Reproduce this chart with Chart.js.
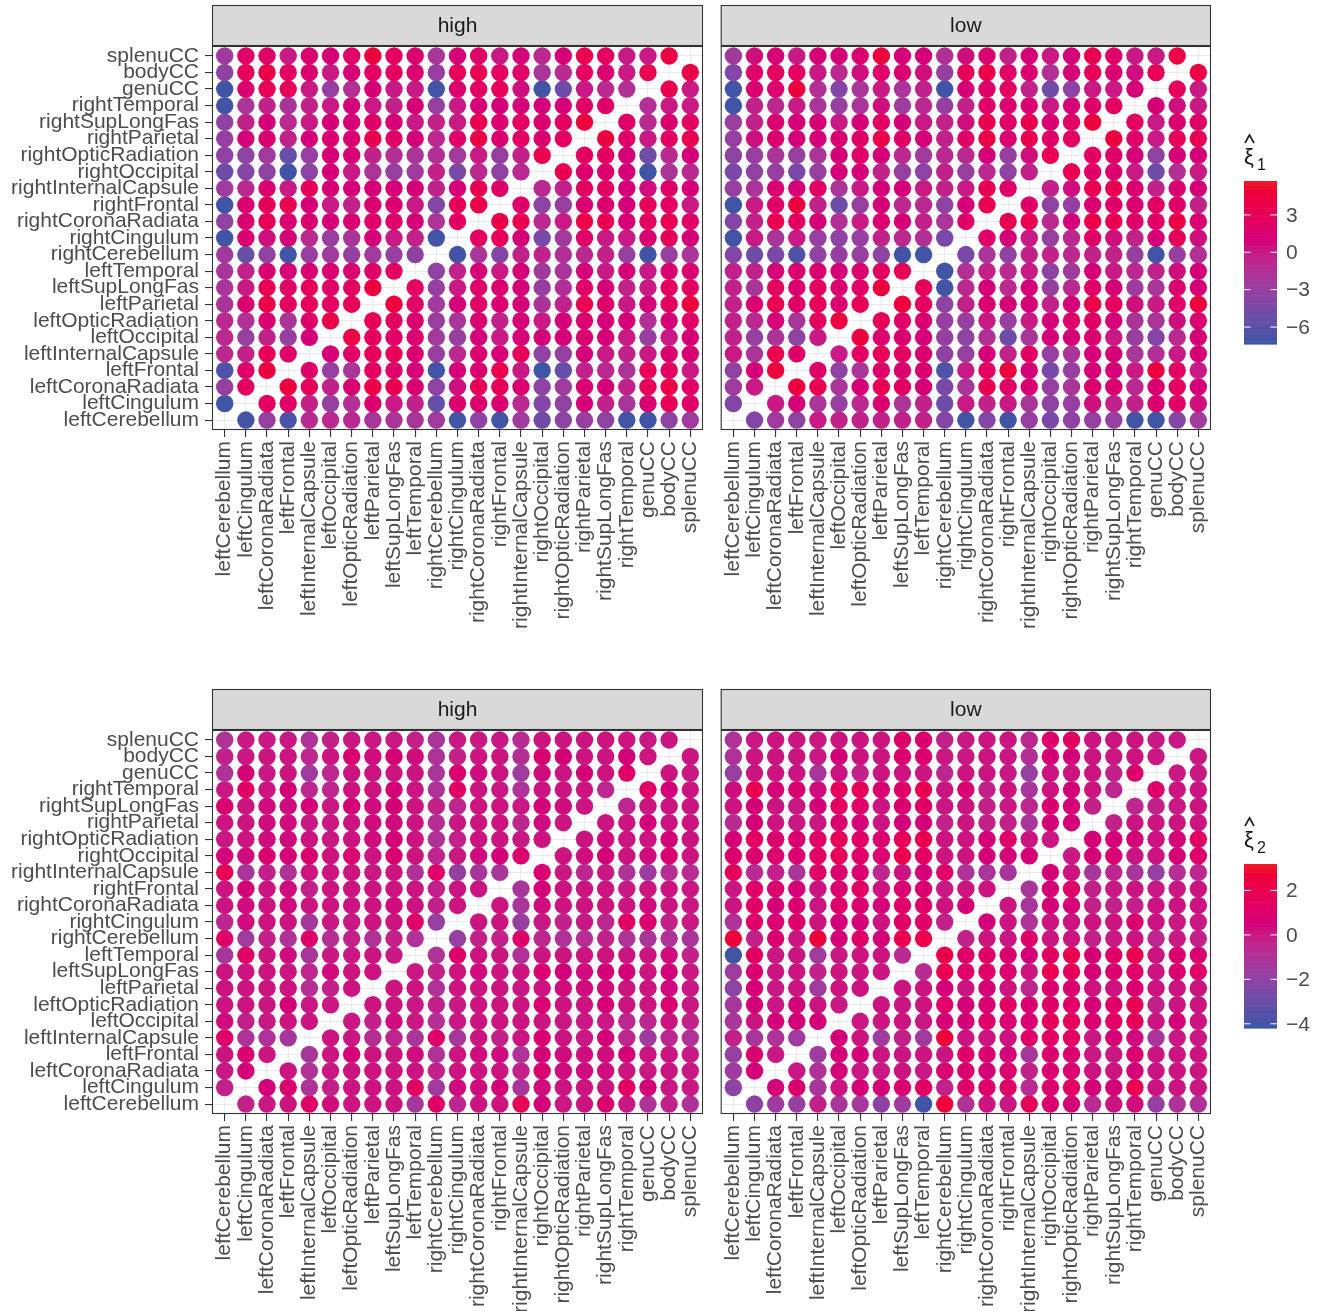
<!DOCTYPE html>
<html lang="en">
<head>
<meta charset="UTF-8">
<title>xi estimates between regions</title>
<script src="https://cdn.jsdelivr.net/npm/chart.js"></script>
<style>
    body {
        margin: 0;
        background: #ffffff;
        width: 1326px;
        height: 1311px;
        overflow: hidden;
    }
    canvas {
        position: absolute;
    }
</style>
</head>
<body>

<canvas id="highTop"></canvas>
<canvas id="lowTop"></canvas>
<canvas id="highBottom"></canvas>
<canvas id="lowBottom"></canvas>

<script>
    // Regions, in axis order (x left to right, y bottom to top)
    const regions = [
        'leftCerebellum', 'leftCingulum', 'leftCoronaRadiata', 'leftFrontal', 'leftInternalCapsule',
        'leftOccipital', 'leftOpticRadiation', 'leftParietal', 'leftSupLongFas', 'leftTemporal',
        'rightCerebellum', 'rightCingulum', 'rightCoronaRadiata', 'rightFrontal', 'rightInternalCapsule',
        'rightOccipital', 'rightOpticRadiation', 'rightParietal', 'rightSupLongFas', 'rightTemporal',
        'genuCC', 'bodyCC', 'splenuCC'
    ];

    const facets = ['high', 'low'];

    // Each matrix is symmetric with an empty diagonal.
    // Row k holds region k+1 against regions 0..k.
    const highXi1 = [
        [-7],
        [-3, 2.5],
        [-6.5, 2, 4.5],
        [-1, -0.5, 3, 2],
        [-1, -3, -0.5, -3, 1],
        [-1, -1.5, 1.5, -2, 2, 4],
        [-2, 1.5, 4, 2.5, 3, 2.5, 3],
        [-2, 0, 3.5, 2, 3, 2, 2.5, 4.5],
        [-2, -0.5, 1.5, 1, 1.5, 1.5, 1.5, 2, 2.5],
        [-2.5, -5.5, -3.5, -7, -3, -2.5, -3, -2.5, -3, -3.5],
        [-7, 1.5, 0.5, 1, -1, -3, -2, 1, 0, -0.5, -7],
        [-3.5, 1.5, 3, 1.5, 1.5, 1, 1.5, 2, 2, 1, -2, 2.5],
        [-7, 1.5, 3, 3.5, 1, 0, -0.5, 1.5, 1.5, 0, -4, 3, 4],
        [-2.5, -1, 1.5, 0, 3, 1, 1, 1, 1, 1, -0.5, 1, 3.5, 2],
        [-5, -4, -3.5, -7, -3.5, 1, 0, -2, -3, -2.5, -0.5, -4.5, -1, -3.5, -1],
        [-3.5, -3.5, -2.5, -5.5, -3, 1, 1, -0.5, -1.5, -2, -1.5, -2.5, 0, -3, -0.5, 3.5],
        [-3, 1, 1.5, -0.5, 1, 1.5, 1.5, 3.5, 2, 1, -1, 2, 4, 1.5, 2.5, 1.5, 2.5],
        [-3.5, -0.5, 1, -1, 0, 1, 1, 2, 1, 0, -0.5, 0, 3.5, 1.5, 2.5, 1.5, 2.5, 4.5],
        [-7, -2, -0.5, -2, -0.5, 0, 1, 0, -0.5, 1, -3, 0, 1, 1, 1, 1, 1, 2, 2],
        [-7, 1.5, 3, 3, 0, -3, -1.5, 1, 0, 0, -7, 1.5, 2.5, 3, 0.5, -7, -5, 0, -1, -1.5],
        [-3.5, 3, 4, 2.5, 1.5, 0, 1, 2.5, 2.5, 1.5, -3, 3, 3.5, 2.5, 2, -2, -1, 2.5, 1.5, 0, 3.5],
        [-2.5, 2, 2, 0, 1.5, 1, 2, 4.5, 2.5, 1.5, -2, 1, 2, 0, 1, -1, 1, 3.5, 2.5, 0, 0, 4]
    ];

    const lowXi1 = [
        [-4],
        [-2.5, 0],
        [-3.5, 1, 4.5],
        [0, -2, 3.5, 2],
        [-0.5, -3, -2, -3.5, 0],
        [-0.5, -1, 1, -2, 2.5, 4.5],
        [-0.5, 1.5, 3.5, 2, 3, 1.5, 3],
        [-0.5, -2, 2.5, 1.5, 2.5, 1.5, 2, 4.5],
        [-0.5, -0.5, 1, 1.5, 1.5, 1, 1.5, 2.5, 3],
        [-4, -5, -4.5, -6.5, -3.5, -3, -3, -3.5, -7, -7],
        [-7, 0, -2, 0, -3, -3.5, -3, -0.5, -1, -1.5, -4.5],
        [-4, -0.5, 3.5, 2.5, 1, -1.5, 0, 1.5, 1, -0.5, -2, 2],
        [-7, 0, 2, 4.5, -0.5, -5, -3, 1, -1, -1, -3.5, 1, 3.5],
        [-3, -2, 1.5, 1, 2.5, -2, 0, 1, 1, 0, -0.5, 0, 3.5, 2],
        [-4.5, -3.5, -3, -4.5, -3, 1, 1, -0.5, -3, -3.5, -0.5, -3, -1, -3.5, -0.5],
        [-3.5, -3, -2, -3, -2, 1, 2, 1, -1, -2.5, -1, -1, 1, -3, 0.5, 3.5],
        [-3, 0.5, 1.5, 1, 1, 1.5, 2, 4, 2, 1, -0.5, 2, 4, 1.5, 3.5, 2, 2.5],
        [-3, -0.5, 1.5, 1, 1, 0, 1, 2.5, 1, 0, -0.5, 0.5, 3.5, 2, 3.5, 1.5, 2, 4.5],
        [-7, -0.5, -1, 0, -2, -3, -2, 0.5, -2.5, -1, -3, -0.5, 2, 1.5, 1.5, 0, 1, 2, 2.5],
        [-7, 1.5, 1.5, 4.5, -1.5, -4, -2, 0, -2, -0.5, -7, 1, 2, 2.5, -0.5, -5, -3.5, 0, 0, 1],
        [-4, 2, 2.5, 2.5, 0, -1, 0.5, 2, 1.5, 0.5, -3, 3, 4, 2, 1.5, -1.5, 1, 3, 1.5, 0.5, 3],
        [-2.5, 0.5, 1, 0, 1, 1, 1.5, 4.5, 1, 1, -1.5, 0.5, 1.5, -0.5, 1, 0, 1, 3.5, 2, 0, 0, 4]
    ];

    const highXi2 = [
        [-0.3],
        [0, 0.5],
        [0.1, 0.8, 0.1],
        [1.1, -1, -1, -1.3],
        [0.3, -0.3, 0, 0.1, 0.1],
        [0.1, 0.1, 0.1, 0.5, 0, 0],
        [0.1, 0.1, 0.1, 0.1, -0.8, -0.3, 0.1],
        [0.1, 0.1, 0.1, 0.1, -0.5, 0.3, 0.1, 0.1],
        [-1.3, 1.3, 0.1, 0.3, -1.2, 0, 0, 0.1, 0],
        [1.1, -1.5, -0.3, -1, 1.1, -0.8, -0.3, -1, -0.3, -1],
        [-0.5, 0.3, 0.1, 0.1, -1.3, 0, 0, 0.1, 0.1, 1.1, -1.8],
        [0.1, 0.3, 0.1, 0.3, 0.1, 0.1, 0.1, 0.1, 0.3, 0.1, -0.3, 0.1],
        [0.1, 0.5, 0.1, 0.3, -0.3, 0.1, 0.1, 0.1, 0.1, 0.1, -0.3, 0.1, 0.1],
        [1.8, -1.2, -0.3, -1, 0.1, 0.1, 0.1, 0, 0.1, -1, 1.1, -1.8, -1.2, -1.2],
        [0.5, 0.3, 0.8, 0.5, 0.8, 0.1, 0.8, 0.1, 0.8, 0.1, -0.5, 0, 0.3, 0.5, 0.8],
        [0, 0.1, 0.3, 0.3, 0.1, 0, 0.1, 0.3, 0.5, 0.1, -1, -0.3, 0.1, 0.1, 0, 0.1],
        [0.1, 0.1, 0.3, 0.3, 0, 0, 0.1, 0.3, 0.3, 0.1, -0.8, 0, 0.1, 0.1, -0.5, 0.3, 0.1],
        [0.8, 0.1, 0.3, 0.3, 0.5, 0, 0.5, 0.3, 0.5, 0.1, -0.3, -0.5, 0.1, 0.1, 0, 0.5, 0.3, 0.1],
        [0, 1.3, 0.1, 0.5, -0.5, -0.5, 0.1, 0.1, 0.5, 0.1, -1, 1.3, 0.1, 0, -1, 0.1, 0.1, 0.1, -0.5],
        [-1, 0.5, 0, 0.1, -1.5, -0.5, 0.1, 0.1, 0.1, 0.1, -1.2, 0.8, 0.3, 0.1, -1.5, 0.3, 0.1, 0.5, 0.1, 1.1],
        [-0.3, 0, 0.1, 0.1, -0.5, 0.1, 0.8, 0.3, 0.5, 0.3, -1, -0.3, 0.1, 0.1, -0.8, 0.8, 0.5, 0.1, 0.1, 0.5, 0.1],
        [-1, 0, 0, 0, -1, -0.3, 0, 0, 0, -0.3, -1.2, 0, 0, 0, -0.7, 0.1, 0.1, 0.1, 0.1, 0.1, 0, 0.1]
    ];

    const lowXi2 = [
        [-2],
        [-1.5, 0.5],
        [-1.8, 0.8, 0],
        [-0.3, -1.2, -1, -1.5],
        [-1.2, 0.1, 0.5, 0.5, 0.5],
        [-1.3, 0.5, 0, 0.5, 0.1, 0],
        [-2, 0.5, 0, 0.1, -1.5, 0.1, 0.1],
        [-1.5, 0.8, 0.1, 0.1, -0.3, 0.1, 0.1, 0.1],
        [-4, 1.3, 0, 0.1, -1.5, 0, 0.1, 0.1, -0.7],
        [2.6, -0.3, 0.8, 0.1, 2.6, 0.5, 1.1, 0.5, 2, 2.1],
        [-1, 1.1, 0.8, 1.1, 0.1, 0.5, 0.5, 0.1, 1.1, 1.1, -0.3],
        [0.1, 1.1, 0.5, 0.8, 0.1, 1.1, 0.8, 0.5, 1.1, 1.1, 0.1, 0.5],
        [0, 1.1, 0.8, 0.5, 0.1, 0.8, 1.3, 0.1, 0.8, 0.8, 0, 0.1, 0.1],
        [1.6, -0.7, -0.3, -1.2, 1.1, 0.8, 0.8, -0.5, 0.1, 0.5, 1.1, -1, -1.2, -1.2],
        [0.8, 0.8, 0.8, 0.8, 1.3, 1.6, 1.1, 0.8, 2, 1.3, 0.1, 0.1, 0.5, 0.5, 0.5],
        [0.5, 1.3, 0.8, 0.8, 1.3, 1.6, 1.1, 0.8, 1.6, 2, 0.1, 0.1, 0.5, 1.1, 0.1, 0],
        [-0.7, 0.5, 0.1, 0, 0, 0.8, 0.5, 0.1, 0.5, 0.5, -0.3, 0.1, -0.3, -0.3, -1.2, 0.5, 0.5],
        [0.1, 0.5, 0.1, 0, 0.5, 1.3, 1.1, 0.1, 0.8, 1.1, 0, 0.1, -0.3, 0, -0.5, 0.8, 0.5, -0.3],
        [0.3, 2, 0.5, 0.8, 0.3, 1.6, 1.8, 0.8, 1.1, 2, 0.1, 0.8, -0.3, 0.1, -1.2, 0.1, 0.5, 0.1, -0.5],
        [-1.8, 0.1, 0.1, 0.1, -1.2, 0.1, -0.3, 0.1, 0.1, 0.1, -0.5, 0.1, 0.1, 0, -1.8, 0.1, 0.1, 0.1, -0.3, 1],
        [-1, 0.1, 0.1, 0.1, 0, 0.5, 0.1, 0.1, 0.8, 0.8, 0, 0, 0.1, 0, -0.8, 0.5, 0.5, 0.1, 0, 0.1, 0],
        [-1, 0, 0.1, 0.1, 0, 0.1, 0.1, 0.1, 1.1, 0.8, -0.3, 0, 0.1, 0.1, -0.5, 1, 1.3, 0.1, 0.1, 0.1, 0, 0]
    ];

    // Colour bar limits and breaks
    const limitsXi1 = [-7.36, 5.72];
    const breaksXi1 = [3, 0, -3, -6];
    const limitsXi2 = [-4.19, 3.19];
    const breaksXi2 = [2, 0, -2, -4];

    const lowColour = '#3955A5';
    const highColour = '#EE1C25';
    const fontFamily = "'Liberation Sans', Arial, Helvetica, sans-serif";

    // --- colour helpers (gradient in polar Lab, like the original) ---
    function hexToLch(hex) {
        const lin = c => {
            c /= 255;
            return c <= 0.04045 ? c / 12.92 : Math.pow((c + 0.055) / 1.055, 2.4);
        };
        const r = lin(parseInt(hex.slice(1, 3), 16));
        const g = lin(parseInt(hex.slice(3, 5), 16));
        const b = lin(parseInt(hex.slice(5, 7), 16));
        const X = (0.4124 * r + 0.3576 * g + 0.1805 * b) / 0.95047;
        const Y = 0.2126 * r + 0.7152 * g + 0.0722 * b;
        const Z = (0.0193 * r + 0.1192 * g + 0.9505 * b) / 1.08883;
        const f = t => t > 0.008856 ? Math.cbrt(t) : 7.787 * t + 16 / 116;
        const L = 116 * f(Y) - 16;
        const A = 500 * (f(X) - f(Y));
        const B = 200 * (f(Y) - f(Z));
        return { l: L, c: Math.hypot(A, B), h: Math.atan2(B, A) * 180 / Math.PI };
    }

    function lchToRgb(l, c, h) {
        const A = c * Math.cos(h * Math.PI / 180);
        const B = c * Math.sin(h * Math.PI / 180);
        const fy = (l + 16) / 116;
        const fx = fy + A / 500;
        const fz = fy - B / 200;
        const inv = t => t * t * t > 0.008856 ? t * t * t : (t - 16 / 116) / 7.787;
        const X = inv(fx) * 0.95047, Y = inv(fy), Z = inv(fz) * 1.08883;
        const gam = v => {
            v = v <= 0.0031308 ? 12.92 * v : 1.055 * Math.pow(v, 1 / 2.4) - 0.055;
            return Math.round(Math.min(1, Math.max(0, v)) * 255);
        };
        const r = gam(3.2406 * X - 1.5372 * Y - 0.4986 * Z);
        const g = gam(-0.9689 * X + 1.8758 * Y + 0.0415 * Z);
        const b = gam(0.0557 * X - 0.2040 * Y + 1.0570 * Z);
        return `rgb(${r},${g},${b})`;
    }

    const lowLch = hexToLch(lowColour);
    const highLch = hexToLch(highColour);

    function colourAt(t) {
        t = Math.min(1, Math.max(0, t));
        let dh = highLch.h - lowLch.h;
        if (dh > 180) dh -= 360;
        if (dh < -180) dh += 360;
        return lchToRgb(lowLch.l + t * (highLch.l - lowLch.l),
                        lowLch.c + t * (highLch.c - lowLch.c),
                        lowLch.h + t * dh);
    }

    function colour(v, lim) {
        return colourAt((v - lim[0]) / (lim[1] - lim[0]));
    }

    // symmetric matrix -> list of points (diagonal left empty)
    function toPoints(rows) {
        const pts = [];
        rows.forEach((row, k) => {
            const i = k + 1;
            row.forEach((v, j) => {
                pts.push({ x: j, y: i, v: v });
                pts.push({ x: i, y: j, v: v });
            });
        });
        return pts;
    }

    function fmt(v) {
        return v < 0 ? '\u2212' + Math.abs(v) : String(v);
    }

    // strip, panel border and (optionally) colour bar
    const facetPlugin = {
        id: 'facet',
        afterDraw(chart, args, opts) {
            const { ctx, chartArea: a } = chart;
            ctx.save();

            // strip
            ctx.fillStyle = '#D9D9D9';
            ctx.fillRect(a.left, a.top - 41, a.right - a.left, 40);
            ctx.strokeStyle = '#333333';
            ctx.lineWidth = 1.1;
            ctx.strokeRect(a.left + 0.5, a.top - 40.5, a.right - a.left - 1, 40);
            ctx.fillStyle = '#1A1A1A';
            ctx.font = '21px ' + fontFamily;
            ctx.textAlign = 'center';
            ctx.textBaseline = 'middle';
            ctx.fillText(opts.strip, (a.left + a.right) / 2, a.top - 20);

            // panel border
            ctx.strokeRect(a.left + 0.5, a.top + 0.5, a.right - a.left - 1, a.bottom - a.top - 1);

            // colour bar
            const bar = opts.bar;
            if (bar) {
                const steps = 60;
                for (let s = 0; s < steps; s++) {
                    ctx.fillStyle = colourAt(1 - (s + 0.5) / steps);
                    ctx.fillRect(bar.x, bar.y + s * bar.h / steps, bar.w, bar.h / steps + 0.6);
                }
                ctx.strokeStyle = '#ffffff';
                ctx.lineWidth = 1;
                ctx.fillStyle = '#4D4D4D';
                ctx.font = '21px ' + fontFamily;
                ctx.textAlign = 'left';
                ctx.textBaseline = 'middle';
                bar.breaks.forEach(b => {
                    const y = bar.y + bar.h * (1 - (b - bar.lim[0]) / (bar.lim[1] - bar.lim[0]));
                    ctx.beginPath();
                    ctx.moveTo(bar.x, y);
                    ctx.lineTo(bar.x + bar.w / 5, y);
                    ctx.moveTo(bar.x + bar.w, y);
                    ctx.lineTo(bar.x + bar.w * 4 / 5, y);
                    ctx.stroke();
                    ctx.fillText(fmt(b), bar.x + bar.w + 9, y + 1);
                });

                // title: xi hat with subscript
                ctx.fillStyle = '#1A1A1A';
                ctx.strokeStyle = '#1A1A1A';
                ctx.lineWidth = 1.6;
                ctx.beginPath();
                ctx.moveTo(bar.x + 1, bar.y - 38);
                ctx.lineTo(bar.x + 5.5, bar.y - 46);
                ctx.lineTo(bar.x + 10, bar.y - 38);
                ctx.stroke();
                ctx.textBaseline = 'alphabetic';
                ctx.font = '22px ' + fontFamily;
                ctx.fillText('\u03BE', bar.x, bar.y - 17);
                ctx.font = '16px ' + fontFamily;
                ctx.fillText(bar.sub, bar.x + 13, bar.y - 11);
            }
            ctx.restore();
        }
    };

    function makePanel(id, box, area, rows, lim, strip, showY, bar) {
        const canvas = document.getElementById(id);
        canvas.width = box.w;
        canvas.height = box.h;
        canvas.style.left = box.x + 'px';
        canvas.style.top = box.y + 'px';

        const yWidth = showY ? area.l - box.x : 0;
        const tickFont = { family: fontFamily, size: 21 };

        if (bar) {
            bar = Object.assign({}, bar, { x: bar.x - box.x, y: bar.y - box.y });
        }

        return new Chart(canvas, {
            type: 'scatter',
            data: {
                datasets: [{
                    data: toPoints(rows),
                    pointRadius: 8.7,
                    pointHoverRadius: 8.7,
                    borderWidth: 0,
                    backgroundColor: c => c.raw ? colour(c.raw.v, lim) : '#000'
                }]
            },
            options: {
                responsive: false,
                animation: false,
                devicePixelRatio: 1,
                layout: {
                    padding: {
                        left: area.l - box.x - yWidth,
                        top: area.t - box.y,
                        right: box.x + box.w - area.r,
                        bottom: 0
                    }
                },
                scales: {
                    x: {
                        type: 'linear',
                        min: -0.6,
                        max: 22.6,
                        afterBuildTicks: s => { s.ticks = regions.map((_, i) => ({ value: i })); },
                        afterFit: s => {
                            s.height = box.y + box.h - area.b;
                            s.paddingLeft = 0;
                            s.paddingRight = 0;
                        },
                        ticks: {
                            autoSkip: false,
                            minRotation: 90,
                            maxRotation: 90,
                            padding: 4,
                            color: '#4D4D4D',
                            font: tickFont,
                            callback: v => regions[v]
                        },
                        grid: {
                            color: '#EBEBEB',
                            lineWidth: 1.1,
                            tickLength: 7,
                            tickColor: '#333333',
                            tickWidth: 1.1
                        },
                        border: { display: false }
                    },
                    y: {
                        type: 'linear',
                        min: -0.6,
                        max: 22.6,
                        afterBuildTicks: s => { s.ticks = regions.map((_, i) => ({ value: i })); },
                        afterFit: s => {
                            s.width = yWidth;
                            s.paddingTop = 0;
                            s.paddingBottom = 0;
                        },
                        ticks: {
                            display: showY,
                            autoSkip: false,
                            padding: 6,
                            color: '#4D4D4D',
                            font: tickFont,
                            callback: v => regions[v]
                        },
                        grid: {
                            color: '#EBEBEB',
                            lineWidth: 1.1,
                            drawTicks: showY,
                            tickLength: 7,
                            tickColor: '#333333',
                            tickWidth: 1.1
                        },
                        border: { display: false }
                    }
                },
                plugins: {
                    legend: { display: false },
                    tooltip: {
                        callbacks: {
                            label: c => `${regions[c.raw.y]} / ${regions[c.raw.x]}: ${c.raw.v}`
                        }
                    },
                    facet: { strip: strip, bar: bar }
                }
            },
            plugins: [facetPlugin]
        });
    }

    makePanel('highTop', { x: 0, y: 0, w: 712, h: 684 }, { l: 212, t: 46, r: 703, b: 430 },
        highXi1, limitsXi1, facets[0], true, null);
    makePanel('lowTop', { x: 712, y: 0, w: 614, h: 684 }, { l: 719, t: 46, r: 1211, b: 430 },
        lowXi1, limitsXi1, facets[1], false,
        { x: 1244, y: 181, w: 33, h: 163, lim: limitsXi1, breaks: breaksXi1, sub: '1' });
    makePanel('highBottom', { x: 0, y: 684, w: 712, h: 627 }, { l: 212, t: 730, r: 703, b: 1114 },
        highXi2, limitsXi2, facets[0], true, null);
    makePanel('lowBottom', { x: 712, y: 684, w: 614, h: 627 }, { l: 719, t: 730, r: 1211, b: 1114 },
        lowXi2, limitsXi2, facets[1], false,
        { x: 1244, y: 864, w: 33, h: 164, lim: limitsXi2, breaks: breaksXi2, sub: '2' });
</script>

</body>
</html>
